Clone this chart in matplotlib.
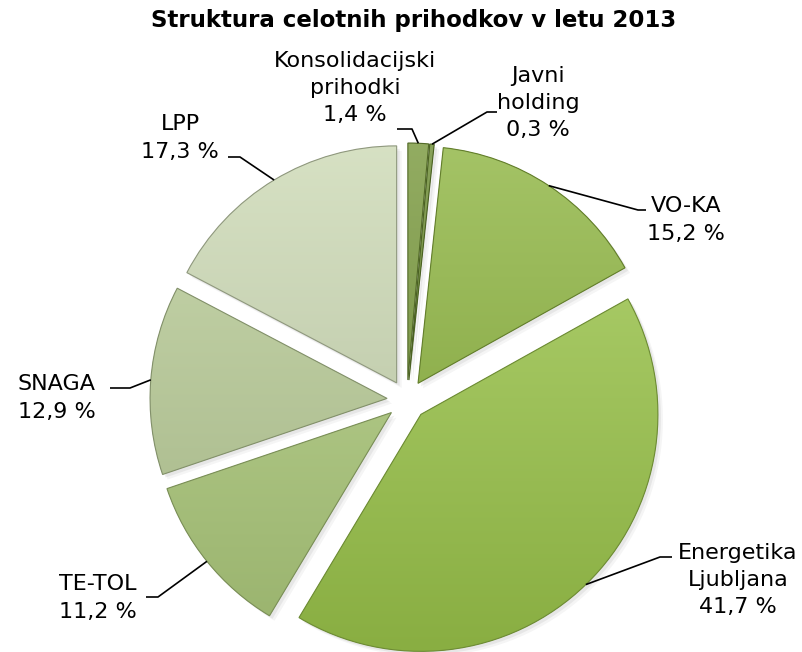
import numpy as np
import matplotlib
matplotlib.use('Agg')
import matplotlib.pyplot as plt
import matplotlib.patches as patches
from matplotlib.colors import to_rgb

# data (clockwise from 12 o'clock)
labels = ["Konsolidacijski\nprihodki", "Javni\nholding", "VO-KA", "Energetika\nLjubljana",
          "TE-TOL", "SNAGA", "LPP"]
shares = [1.4, 0.3, 15.2, 41.7, 11.2, 12.9, 17.3]
colors = ["#77973A", "#6A8A30", "#8DB43F", "#9CC64B", "#AECB7C", "#BACD98", "#CCD9B4"]

W, H = 803, 652
cx, cy, R = 407, H - 400, 237
expl = 20

# label text centre (x, y from top) and leader end point (x, y from top)
label_pos = [(355, 88), (538, 103), (686, 220), (738, 580), (98, 598), (57, 398), (180, 138)]
leader_end = [(397, 129), (497, 112), (646, 210), (672, 557), (146, 597), (110, 388), (228, 157)]
elbow_len = [15, 10, 8, 12, 12, 20, 12]

fig = plt.figure(figsize=(W / 100, H / 100), dpi=100)
ax = fig.add_axes([0, 0, 1, 1])

wedges, _ = ax.pie(shares, colors=colors, startangle=90, counterclock=False,
                   center=(cx, cy), radius=R, explode=[expl] * len(shares),
                   wedgeprops=dict(linewidth=0))


def mix(c, other, t):
    c = np.array(to_rgb(c))
    return c * (1 - t) + np.array(other) * t


# soft shadow + vertical gradient fill inside each wedge
for w, col in zip(wedges, colors):
    wc = w.center
    for k, a in [(5, 0.08), (3, 0.12)]:
        sh = patches.Wedge((wc[0] + k, wc[1] - k), R, w.theta1, w.theta2,
                           facecolor='#808080', edgecolor='none', alpha=a, zorder=0.5)
        ax.add_patch(sh)
    x0, x1 = wc[0] - R, wc[0] + R
    y0, y1 = wc[1] - R, wc[1] + R
    top = mix(col, (1, 1, 1), 0.2)
    bot = mix(col, (0, 0, 0), 0.12)
    t = np.linspace(0, 1, 64)[:, None]
    grad = top[None, :] * (1 - t) + bot[None, :] * t
    img = ax.imshow(grad[:, None, :], extent=(x0, x1, y0, y1), origin='upper',
                    aspect='auto', interpolation='bilinear', zorder=2)
    img.set_clip_path(w)
    edge = patches.Wedge(wc, R, w.theta1, w.theta2, facecolor='none',
                         edgecolor=mix(col, (0, 0, 0), 0.3), linewidth=0.8, zorder=3)
    ax.add_patch(edge)

# labels and leader lines
for i, w in enumerate(wedges):
    mid = np.deg2rad((w.theta1 + w.theta2) / 2)
    wc = w.center
    ax_pt = (wc[0] + R * np.cos(mid), wc[1] + R * np.sin(mid))
    ex, ey = leader_end[i]
    ey = H - ey
    sign = 1 if ex > ax_pt[0] else -1
    elbow = (ex - sign * elbow_len[i], ey)
    ax.plot([ax_pt[0], elbow[0], ex], [ax_pt[1], elbow[1], ey], color='black', lw=1.2,
            zorder=4, solid_capstyle='butt')
    tx, ty = label_pos[i]
    txt = f"{labels[i]}\n{shares[i]:.1f} %".replace('.', ',')
    ax.text(tx, H - ty, txt, ha='center', va='center', fontsize=16,
            linespacing=1.45, color='black', zorder=5)

ax.text(414, H - 20, "Struktura celotnih prihodkov v letu 2013", ha='center', va='center',
        fontsize=16.5, fontweight='bold')

ax.set_xlim(0, W)
ax.set_ylim(0, H)
ax.set_aspect('equal')
ax.axis('off')

fig.savefig("out.png", dpi=100)
